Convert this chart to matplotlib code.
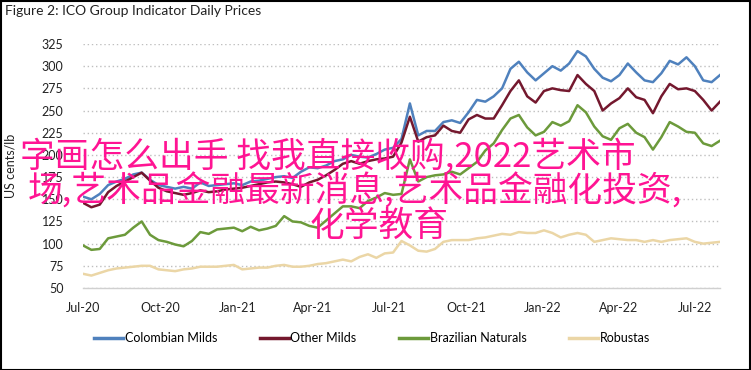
import matplotlib
matplotlib.use("Agg")
import matplotlib.pyplot as plt
import matplotlib.dates as mdates
from matplotlib.patches import Rectangle
import pandas as pd

start_date = "2020-07-01"
n_points = 77
dates = pd.date_range(start_date, periods=n_points, freq="10D")

colombian_milds = [153, 150, 156, 166, 170, 173, 178, 180, 172, 166, 164, 162, 164, 162, 169, 165,
                   166, 167, 168, 166, 170, 171, 173, 175, 176, 174, 181, 186, 185, 188, 193, 195,
                   200, 198, 197, 201, 206, 208, 218, 258, 222, 227, 227, 237, 239, 236, 248, 262,
                   260, 266, 275, 297, 305, 293, 284, 292, 300, 295, 303, 317, 311, 297, 287, 283,
                   290, 303, 293, 284, 282, 292, 306, 302, 310, 300, 284, 282, 290]
other_milds = [146, 141, 144, 158, 165, 170, 175, 180, 171, 163, 159, 157, 155, 157, 160, 158,
               159, 161, 162, 163, 165, 167, 169, 170, 169, 167, 164, 169, 172, 177, 183, 190,
               193, 190, 193, 195, 196, 198, 214, 243, 215, 220, 222, 233, 227, 225, 240, 245,
               241, 241, 256, 272, 284, 266, 259, 272, 275, 273, 272, 290, 280, 272, 250, 258,
               264, 275, 265, 262, 247, 266, 280, 274, 275, 272, 262, 250, 260]
brazilian_naturals = [98, 93, 94, 106, 108, 110, 118, 125, 110, 104, 102, 99, 97, 103, 113, 111,
                      116, 117, 118, 114, 119, 115, 117, 120, 131, 125, 124, 120, 118, 126, 134, 142,
                      142, 140, 148, 152, 157, 155, 156, 195, 170, 175, 177, 178, 181, 178, 185, 192,
                      205, 213, 228, 241, 245, 231, 222, 226, 237, 233, 238, 256, 248, 232, 221, 217,
                      230, 235, 225, 220, 206, 220, 237, 232, 226, 225, 213, 210, 216]
robustas = [66, 64, 67, 70, 72, 73, 74, 75, 75, 71, 70, 69, 71, 72, 74, 74,
            74, 75, 76, 71, 72, 73, 73, 75, 76, 74, 74, 75, 77, 78, 80, 82,
            80, 85, 88, 84, 89, 90, 103, 98, 92, 91, 94, 102, 104, 104, 104, 106,
            107, 109, 111, 110, 113, 112, 112, 115, 112, 107, 110, 112, 110, 102, 104, 106,
            105, 104, 104, 102, 104, 102, 104, 105, 106, 102, 100, 101, 102]

series_names = ["Colombian Milds", "Other Milds", "Brazilian Naturals", "Robustas"]
series_colors = ["#4F81BD", "#74182E", "#6C9A3B", "#EBD6A6"]
y_ticks = [50, 75, 100, 125, 150, 175, 200, 225, 250, 275, 300, 325]
x_tick_dates = ["2020-07-01", "2020-10-01", "2021-01-01", "2021-04-01", "2021-07-01",
                "2021-10-01", "2022-01-01", "2022-04-01", "2022-07-01"]
title_text = "Figure 2: ICO Group Indicator Daily Prices"
y_label = "US cents/lb"
overlay_lines = ["字画怎么出手 找我直接收购,2022艺术市",
                 "场,艺术品金融最新消息,艺术品金融化投资,",
                 "化学教育"]

# ---- figure ----
W, H = 751, 370
fig = plt.figure(figsize=(W / 100, H / 100), dpi=100)
font = "Lato"
plt.rcParams["font.family"] = [font, "DejaVu Sans"]

ax = fig.add_axes([83 / W, 1 - 288 / H, (720 - 83) / W, (288 - 44) / H])

all_series = [colombian_milds, other_milds, brazilian_naturals, robustas]
for vals, name, col in zip(all_series, series_names, series_colors):
    ax.plot(dates, vals, color=col, lw=1.8, label=name, solid_joinstyle="round")

ax.set_ylim(50, 325)
ax.set_xlim(pd.Timestamp("2020-07-01"), pd.Timestamp("2022-07-31"))
ax.set_yticks(y_ticks)
ax.set_xticks([pd.Timestamp(d) for d in x_tick_dates])
ax.xaxis.set_major_formatter(mdates.DateFormatter("%b-%y"))
ax.tick_params(axis="both", length=0, labelsize=9, colors="#222222")
ax.tick_params(axis="y", pad=14)
ax.tick_params(axis="x", pad=10)
ax.grid(axis="y", color="#BFBFBF", linestyle=(0, (1, 2)), linewidth=1.0)
ax.set_axisbelow(True)
for s in ["top", "right", "left"]:
    ax.spines[s].set_visible(False)
ax.spines["bottom"].set_color("#D0D0D0")
ax.spines["bottom"].set_linewidth(1.0)
ax.set_ylabel(y_label, fontsize=9, color="#222222", labelpad=8)
ax.yaxis.set_label_coords(-66 / (720 - 83), 0.5)

fig.text(5 / W, 1 - 11 / H, title_text, fontsize=10, color="#222222", ha="left", va="center")

handles, labels = ax.get_legend_handles_labels()
leg = fig.legend(handles, labels, loc="center", bbox_to_anchor=(372 / W, 1 - 338 / H), ncol=4,
                 frameon=False, fontsize=9, handlelength=2.3, handletextpad=0.15,
                 columnspacing=3.4)
for h in leg.legend_handles:
    h.set_linewidth(2.5)

# overlay watermark text
cjk = ["Noto Sans CJK SC", "DejaVu Sans"]
fs = 25
fig.text(20 / W, 1 - 167 / H, overlay_lines[0], fontsize=fs, color="#FF1493",
         family=cjk, ha="left", va="baseline", zorder=10, fontweight="medium")
fig.text(28 / W, 1 - 202 / H, overlay_lines[1], fontsize=fs, color="#FF1493",
         family=cjk, ha="left", va="baseline", zorder=10, fontweight="medium")
fig.text(310 / W, 1 - 236 / H, overlay_lines[2], fontsize=fs, color="#FF1493",
         family=cjk, ha="left", va="baseline", zorder=10, fontweight="medium")

fig.patches.append(Rectangle((0.5 / W, 0.5 / H), 1 - 1.5 / W, 1 - 1.5 / H, transform=fig.transFigure,
                             fill=False, edgecolor="black", linewidth=1.5, zorder=20))

fig.savefig("out.png", dpi=100)
